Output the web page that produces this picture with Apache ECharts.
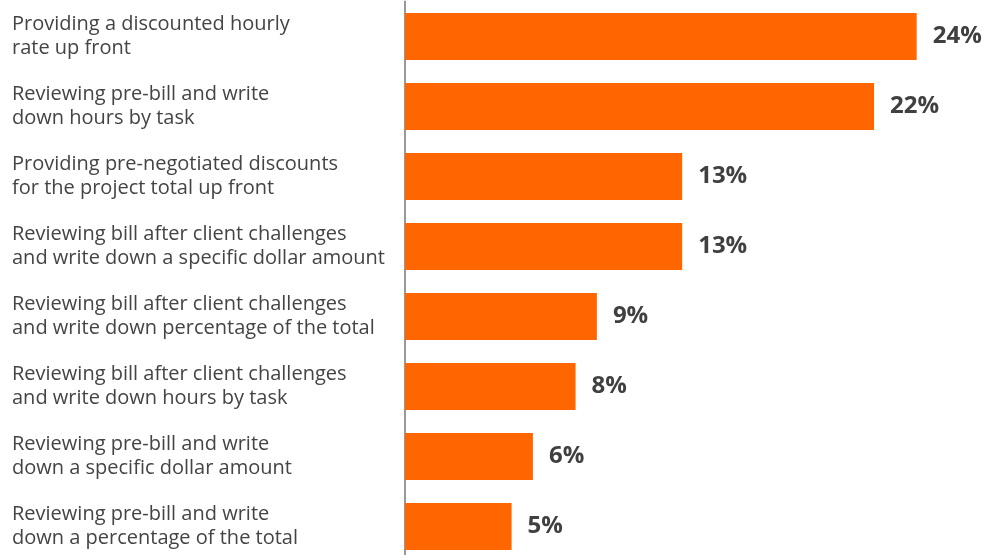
<!DOCTYPE html>
<html>
<head>
<meta charset="utf-8">
<script src="https://cdn.jsdelivr.net/npm/echarts@6/dist/echarts.min.js"></script>
<style>html,body{margin:0;padding:0;background:#fff;}#c{width:999px;height:555px;}</style>
</head>
<body>
<div id="c"></div>
<script>
var categories = [
  "Providing a discounted hourly\nrate up front",
  "Reviewing pre-bill and write\ndown hours by task",
  "Providing pre-negotiated discounts\nfor the project total up front",
  "Reviewing bill after client challenges\nand write down a specific dollar amount",
  "Reviewing bill after client challenges\nand write down percentage of the total",
  "Reviewing bill after client challenges\nand write down hours by task",
  "Reviewing pre-bill and write\ndown a specific dollar amount",
  "Reviewing pre-bill and write\ndown a percentage of the total"
];
var values = [24, 22, 13, 13, 9, 8, 6, 5];

var chart = echarts.init(document.getElementById('c'), null, {renderer: 'canvas'});
chart.setOption({
  animation: false,
  grid: {left: 405, top: 1.5, width: 533, height: 560, containLabel: false, outerBoundsMode: 'none'},
  xAxis: {type: 'value', min: 0, max: 25, show: false, splitLine: {show: false}},
  yAxis: {
    type: 'category',
    data: categories,
    inverse: true,
    axisLine: {show: true, lineStyle: {color: '#999999', width: 2}},
    axisTick: {show: false},
    axisLabel: {
      margin: 393,
      align: 'left',
      color: '#444444',
      fontFamily: 'Open Sans',
      fontSize: 20,
      lineHeight: 24
    }
  },
  series: [{
    type: 'bar',
    data: values,
    barWidth: 47,
    itemStyle: {color: '#FF6600'},
    label: {
      show: true,
      position: 'right',
      distance: 16,
      formatter: '{c}%',
      color: '#404040',
      fontFamily: 'Open Sans',
      fontWeight: 'bold',
      fontSize: 24
    }
  }]
});
</script>
</body>
</html>
